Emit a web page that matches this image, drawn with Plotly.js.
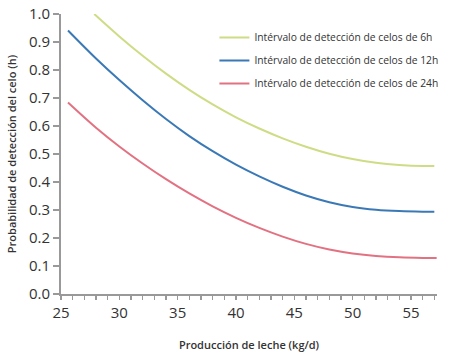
<!DOCTYPE html>
<html>
<head>
<meta charset="utf-8">
<script src="https://cdn.plot.ly/plotly-3.0.1.min.js"></script>
<style>html,body{margin:0;padding:0;background:#fff;}#chart{width:450px;height:355px;}</style>
</head>
<body>
<div id="chart"></div>
<script>
const seriesNames = ["Intérvalo de detección de celos de 6h", "Intérvalo de detección de celos de 12h", "Intérvalo de detección de celos de 24h"];
const seriesColors = ["#cfdc86", "#3b79b6", "#e27282"];

const x6h = [27.85, 30, 32, 34, 36, 38, 40, 42, 44, 46, 48, 50, 52, 54, 56, 57];
const y6h = [1.0, 0.920, 0.851, 0.787, 0.729, 0.677, 0.631, 0.591, 0.556, 0.526, 0.501, 0.482, 0.469, 0.461, 0.457, 0.457];

const x12h = [25.6, 28, 30, 32, 34, 36, 38, 40, 42, 44, 46, 48, 50, 52, 54, 56, 57];
const y12h = [0.941, 0.841, 0.764, 0.692, 0.625, 0.564, 0.510, 0.462, 0.420, 0.383, 0.352, 0.328, 0.311, 0.301, 0.296, 0.294, 0.294];

const x24h = [25.6, 28, 30, 32, 34, 36, 38, 40, 42, 44, 46, 48, 50, 52, 54, 56, 57.2];
const y24h = [0.684, 0.594, 0.527, 0.466, 0.410, 0.359, 0.313, 0.272, 0.236, 0.205, 0.179, 0.159, 0.145, 0.136, 0.131, 0.129, 0.129];

const yTickVals = [0, 0.1, 0.2, 0.3, 0.4, 0.5, 0.6, 0.7, 0.8, 0.9, 1.0];
const yTickText = ["0.0", "0.1", "0.2", "0.3", "0.4", "0.5", "0.6", "0.7", "0.8", "0.9", "1.0"];
const xTickVals = [25, 30, 35, 40, 45, 50, 55];

const xs = [x6h, x12h, x24h];
const ys = [y6h, y12h, y24h];

const traces = xs.map((x, i) => ({
  type: "scatter",
  mode: "lines",
  x: x,
  y: ys[i],
  name: seriesNames[i],
  legendgroup: "g" + i,
  line: {color: seriesColors[i], width: 2, shape: "spline", smoothing: 1},
  cliponaxis: false,
  hoverinfo: "skip"
}));

const layout = {
  width: 450,
  height: 355,
  margin: {l: 61, r: 13, t: 14, b: 61, autoexpand: false},
  paper_bgcolor: "#ffffff",
  plot_bgcolor: "#ffffff",
  font: {family: "Open Sans, sans-serif", color: "#333"},
  showlegend: true,
  legend: {
    x: 0.408, y: 0.968, xanchor: "left", yanchor: "top",
    font: {size: 10.3, color: "#333", family: "Open Sans, sans-serif"},
    bgcolor: "rgba(0,0,0,0)",
    tracegroupgap: 4,
    itemwidth: 30
  },
  xaxis: {
    range: [25, 57.23],
    tickvals: xTickVals,
    ticktext: xTickVals.map(String),
    ticks: "outside",
    ticklen: 4,
    tickwidth: 1.5,
    tickcolor: "#999",
    minor: {dtick: 1, ticks: "outside", ticklen: 4, tickwidth: 1.5, tickcolor: "#999"},
    showline: true,
    linecolor: "#999",
    linewidth: 2,
    showgrid: false,
    zeroline: false,
    automargin: false,
    tickfont: {size: 15, color: "#333", family: "Open Sans, sans-serif"},
    title: {text: "Producción de leche (kg/d)", font: {size: 11, color: "#333", family: "Open Sans, sans-serif", weight: 600}, standoff: 20}
  },
  yaxis: {
    range: [0, 1],
    tickvals: yTickVals,
    ticktext: yTickText,
    ticks: "outside",
    ticklen: 6,
    tickwidth: 1.5,
    tickcolor: "#999",
    showline: true,
    linecolor: "#999",
    linewidth: 2,
    showgrid: false,
    zeroline: false,
    automargin: false,
    tickfont: {size: 15, color: "#333", family: "Open Sans, sans-serif"},
    title: {text: "Probabilidad de detección del celo (h)", font: {size: 11, color: "#333", family: "Open Sans, sans-serif", weight: 600}, standoff: 10}
  }
};

Plotly.newPlot("chart", traces, layout, {displayModeBar: false, staticPlot: true});
</script>
</body>
</html>
